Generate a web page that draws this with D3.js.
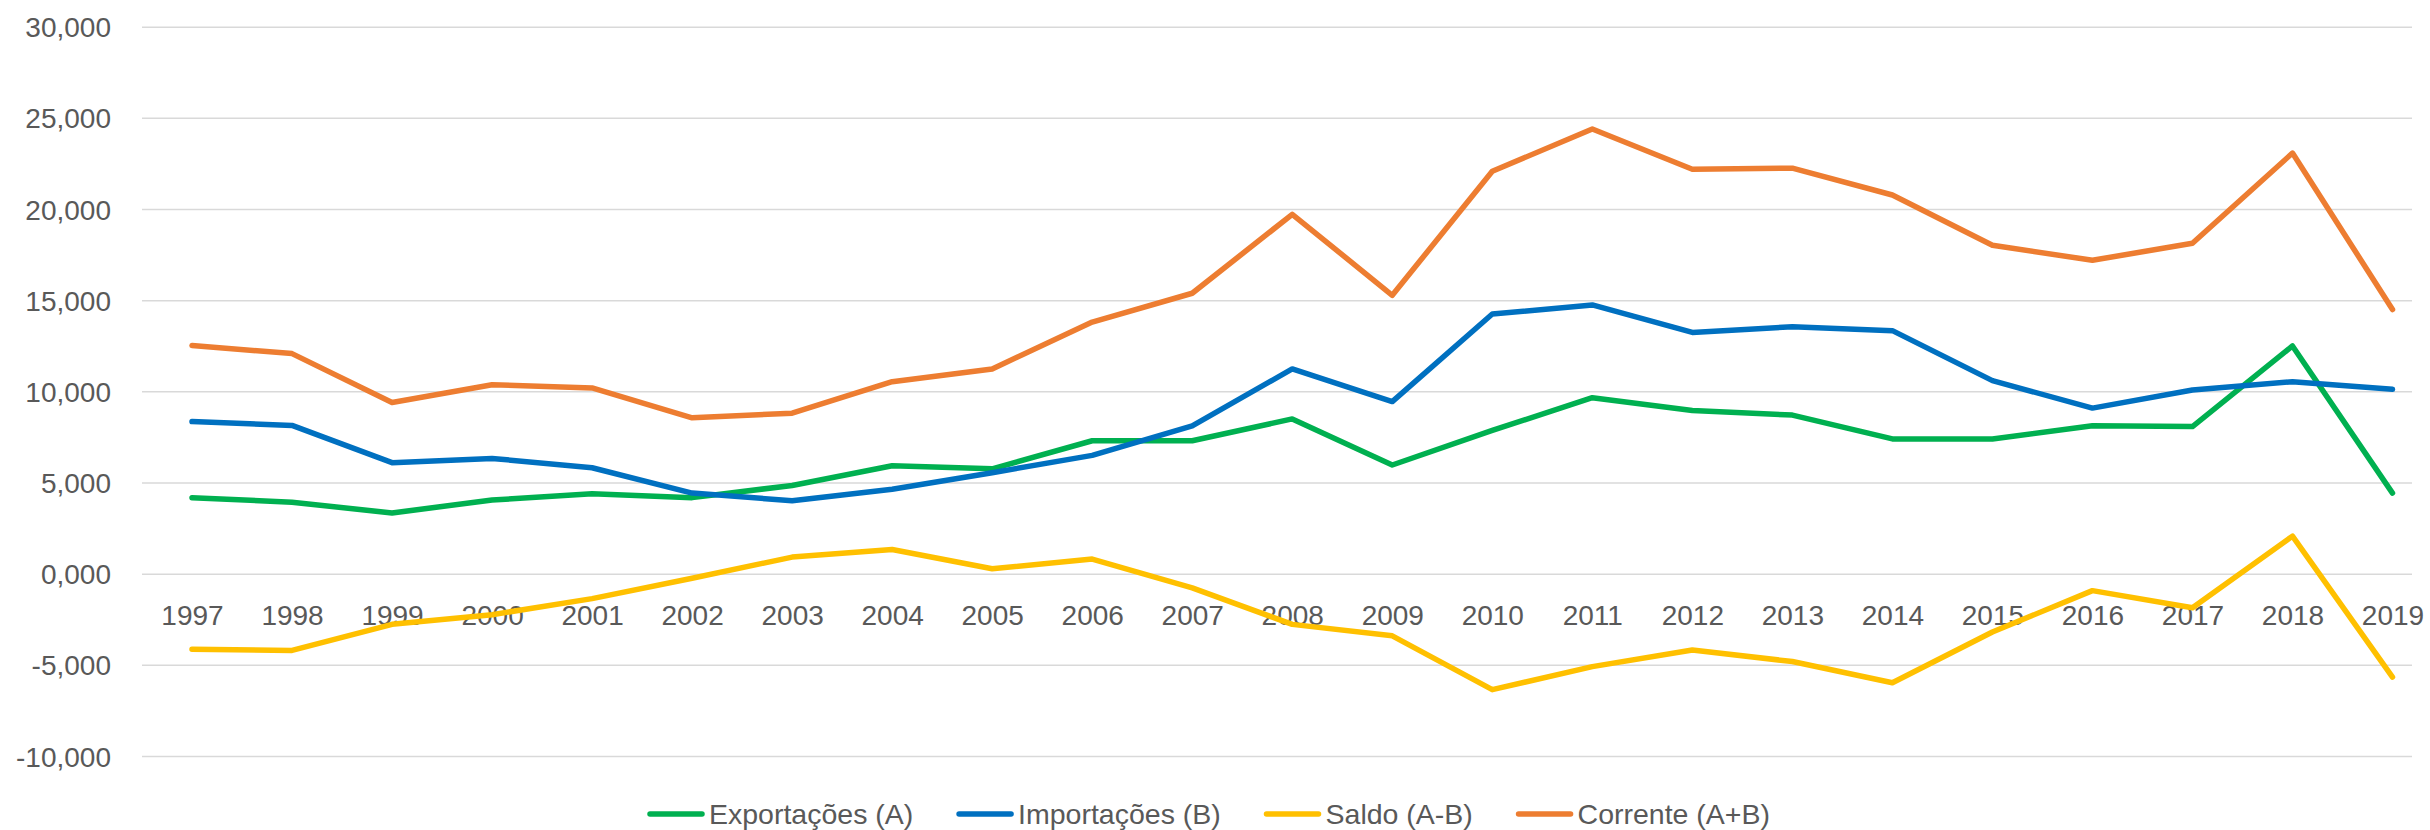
<!DOCTYPE html>
<html>
<head>
<meta charset="utf-8">
<script src="https://cdn.jsdelivr.net/npm/d3@7"></script>
<style>
  body { margin: 0; background: #fff; }
  text { font-family: 'Liberation Sans', Arial, sans-serif; fill: #595959; }
</style>
</head>
<body>
<svg></svg>
<script>
const dims = { width: 2430, height: 830 }

// data
const years = ['1997', '1998', '1999', '2000', '2001', '2002', '2003', '2004', '2005', '2006', '2007', '2008',
  '2009', '2010', '2011', '2012', '2013', '2014', '2015', '2016', '2017', '2018', '2019']
const exportacoes = [4170, 3920, 3330, 4040, 4380, 4170, 4840, 5920, 5750, 7290, 7290, 8490,
  5960, 7860, 9650, 8950, 8700, 7390, 7390, 8110, 8070, 12490, 4420]
const importacoes = [8340, 8130, 6090, 6320, 5810, 4420, 4000, 4630, 5540, 6490, 8110, 11230,
  9440, 14240, 14740, 13230, 13540, 13330, 10590, 9080, 10070, 10530, 10110]
const saldo = [-4150, -4210, -2780, -2250, -1370, -250, 910, 1330, 270, 800, -780, -2780,
  -3410, -6360, -5100, -4190, -4820, -5980, -3200, -930, -1870, 2060, -5670]
const corrente = [12510, 12070, 9390, 10360, 10190, 8550, 8800, 10530, 11230, 13800, 15380, 19710,
  15270, 22070, 24390, 22180, 22240, 20770, 18010, 17190, 18120, 23070, 14490]
const yTicks = [-10000, -5000, 0, 5000, 10000, 15000, 20000, 25000, 30000]

const series = [
  { name: 'Exportações (A)', values: exportacoes, color: '#00B050' },
  { name: 'Importações (B)', values: importacoes, color: '#0070C0' },
  { name: 'Saldo (A-B)', values: saldo, color: '#FFC000' },
  { name: 'Corrente (A+B)', values: corrente, color: '#ED7D31' }
]

const svg = d3.select('svg')
  .attr('width', dims.width)
  .attr('height', dims.height)

const plot = { left: 142, right: 2412, top: 26.7, bottom: 756 }

const x = d3.scalePoint().domain(years).range([192, 2392.5])
const y = d3.scaleLinear().domain([-10000, 30000]).range([plot.bottom, plot.top])

// gridlines + y labels
const yAxis = svg.append('g')
  .attr('transform', `translate(${plot.left},0)`)
  .call(d3.axisLeft(y)
    .tickValues(yTicks)
    .tickSize(-(plot.right - plot.left))
    .tickPadding(31)
    .tickFormat(d => {
      const s = d3.format(',')(Math.abs(d))
      const out = d === 0 ? '0,000' : s
      return d < 0 ? '-' + out : out
    }))
yAxis.select('.domain').remove()
yAxis.selectAll('.tick line').attr('stroke', '#D9D9D9').attr('stroke-width', 1.5)
yAxis.selectAll('.tick text')
  .attr('font-size', 28)
  .attr('dy', '0.36em')
  .style('font-family', "'Liberation Sans', Arial, sans-serif")
  .attr('fill', '#595959')

// x labels sit just under the zero line
const xAxis = svg.append('g')
  .attr('transform', `translate(0,${y(0)})`)
  .call(d3.axisBottom(x).tickSize(0).tickPadding(51))
xAxis.select('.domain').remove()
xAxis.selectAll('.tick text')
  .attr('font-size', 28)
  .attr('dy', 0)
  .style('font-family', "'Liberation Sans', Arial, sans-serif")
  .attr('fill', '#595959')

// lines
const line = d3.line()
  .x((d, i) => x(years[i]))
  .y(d => y(d))

svg.append('g').selectAll('path').data(series)
  .enter().append('path')
    .attr('d', d => line(d.values))
    .attr('fill', 'none')
    .attr('stroke', d => d.color)
    .attr('stroke-width', 5.5)
    .attr('stroke-linejoin', 'round')
    .attr('stroke-linecap', 'round')

// legend
const legend = svg.append('g').attr('transform', 'translate(650,814)')
const items = legend.selectAll('g').data(series).enter().append('g')
items.append('line')
  .attr('x1', 0).attr('x2', 52)
  .attr('y1', 0).attr('y2', 0)
  .attr('stroke', d => d.color)
  .attr('stroke-width', 5.5)
  .attr('stroke-linecap', 'round')
items.append('text')
  .attr('x', 59)
  .attr('dy', '0.35em')
  .attr('font-size', 28.5)
  .text(d => d.name)

// spread the items between the left and right ends seen in the reference
const widths = []
items.each(function () { widths.push(this.getBBox().width) })
const gap = (1768 - 648 - d3.sum(widths)) / (widths.length - 1)
let offset = 0
items.each(function (d, i) {
  d3.select(this).attr('transform', `translate(${offset},0)`)
  offset += widths[i] + gap
})
</script>
</body>
</html>
